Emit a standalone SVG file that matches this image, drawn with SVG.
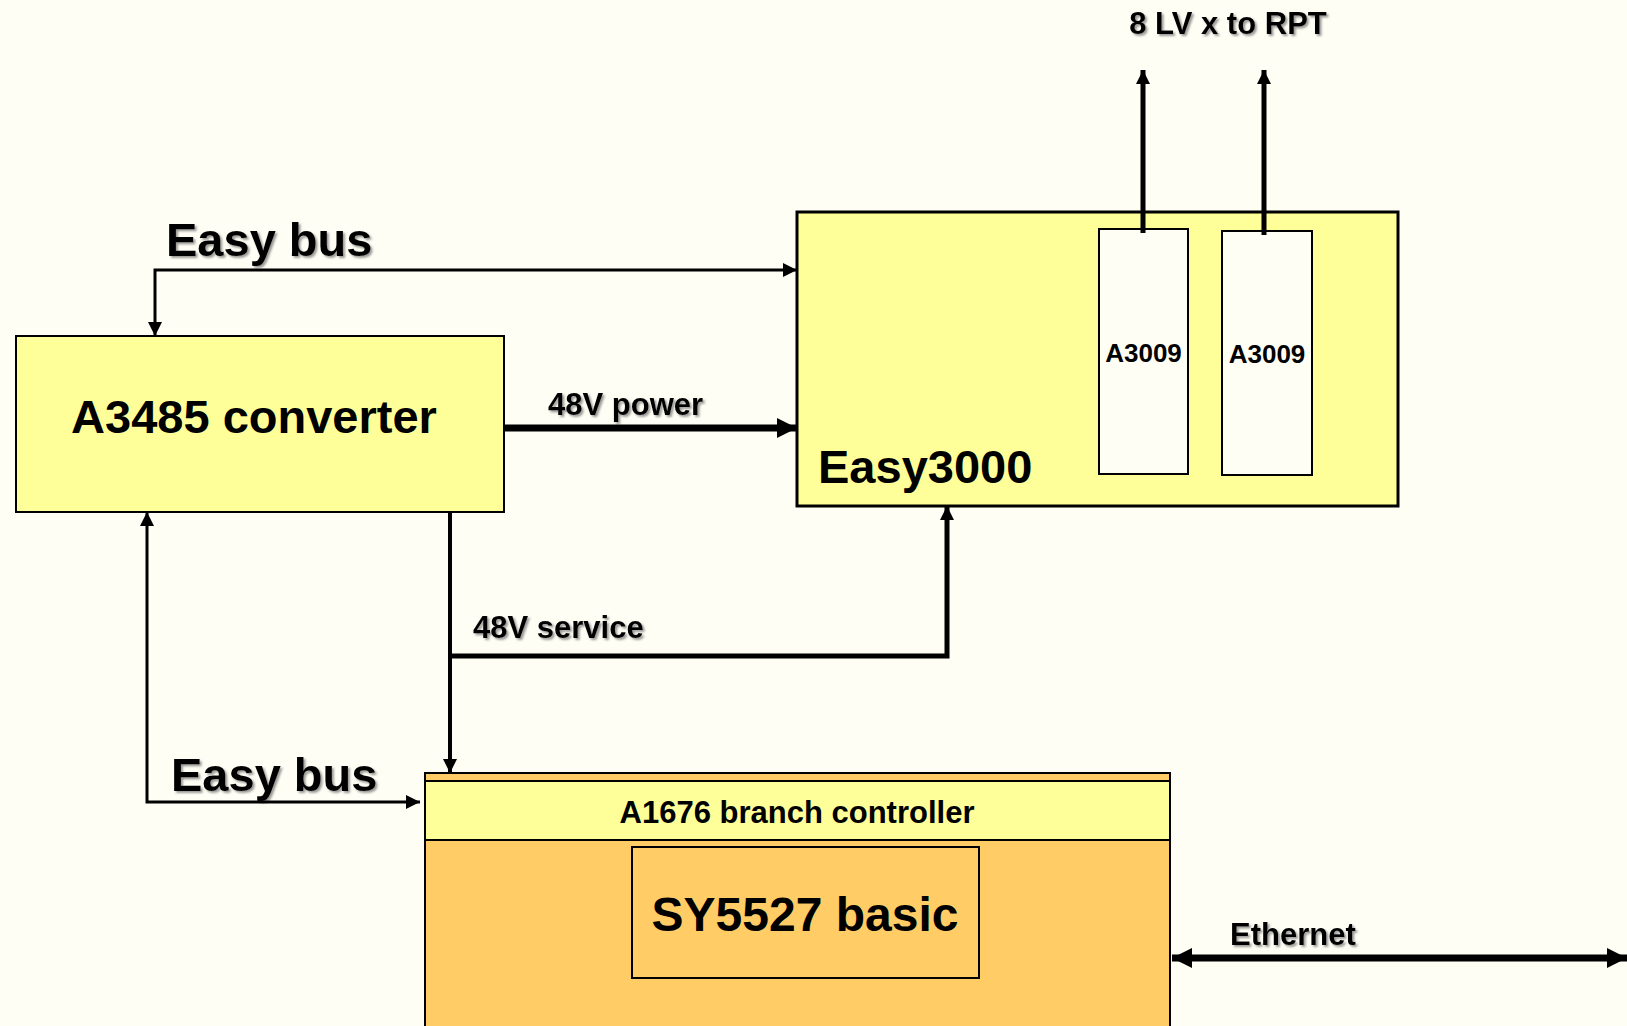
<svg xmlns="http://www.w3.org/2000/svg" width="1627" height="1026" viewBox="0 0 1627 1026">
<style>
  .box { stroke:#000; stroke-width:2; }
  .yel { fill:#FFFF99; }
  .org { fill:#FFCC66; }
  .wht { fill:#FFFEF5; }
  .t { font-family:"Liberation Sans", Arial, sans-serif; font-weight:bold; fill:#000; }
  .ln { fill:none; stroke:#000; stroke-linejoin:miter; }
</style>
<defs>
  <marker id="ah" viewBox="0 0 10 10" refX="10" refY="5" markerUnits="userSpaceOnUse" markerWidth="18" markerHeight="14" orient="auto-start-reverse">
    <path d="M0,0 L10,5 L0,10 z" fill="#000"/>
  </marker>
  <marker id="ahb" viewBox="0 0 10 10" refX="10" refY="5" markerUnits="userSpaceOnUse" markerWidth="22" markerHeight="20" orient="auto-start-reverse">
    <path d="M0,0 L10,5 L0,10 z" fill="#000"/>
  </marker>
  <filter id="sh" x="-5%" y="-10%" width="110%" height="130%">
    <feDropShadow dx="2" dy="2" stdDeviation="1" flood-color="#555" flood-opacity="0.6"/>
  </filter>
</defs>
<rect x="0" y="0" width="1627" height="1026" fill="#FFFEF5"/>

<g id="A3485">
  <rect class="box yel" x="16" y="336" width="488" height="176"/>
  <text class="t" x="254" y="433" font-size="47" text-anchor="middle">A3485 converter</text>
</g>

<g id="Easy3000">
  <rect class="yel" x="797" y="212" width="601" height="294" stroke="#000" stroke-width="3"/>
  <text class="t" x="818" y="483" font-size="47">Easy3000</text>
</g>

<g id="A3009-1">
  <rect class="box wht" x="1099" y="229" width="89" height="245"/>
  <text class="t" x="1143.5" y="362" font-size="26" text-anchor="middle">A3009</text>
</g>

<g id="A3009-2">
  <rect class="box wht" x="1222" y="231" width="90" height="244"/>
  <text class="t" x="1267" y="363" font-size="26" text-anchor="middle">A3009</text>
</g>

<g id="A1676">
  <rect class="box org" x="425" y="773" width="745" height="270"/>
  <rect class="box yel" x="425" y="781" width="745" height="59"/>
  <text class="t" x="797" y="823" font-size="31" text-anchor="middle">A1676 branch controller</text>
</g>

<g id="SY5527">
  <rect class="box org" x="632" y="847" width="347" height="131"/>
  <text class="t" x="805" y="931" font-size="48" text-anchor="middle">SY5527 basic</text>
</g>

<g id="labels" filter="url(#sh)">
  <text class="t" x="1228" y="34" font-size="31" text-anchor="middle">8 LV x to RPT</text>
  <text class="t" x="166" y="256" font-size="47">Easy bus</text>
  <text class="t" x="548" y="415" font-size="31">48V power</text>
  <text class="t" x="473" y="638" font-size="31">48V service</text>
  <text class="t" x="171" y="791" font-size="47">Easy bus</text>
  <text class="t" x="1230" y="945" font-size="31">Ethernet</text>
</g>

<g id="connectors">
  <path class="ln" stroke-width="3" d="M797,270 L155,270 L155,336" marker-start="url(#ah)" marker-end="url(#ah)"/>
  <path class="ln" stroke-width="7" d="M504,428 L797,428" marker-end="url(#ahb)"/>
  <path class="ln" stroke-width="4" d="M450,512 L450,773" marker-end="url(#ah)"/>
  <path class="ln" stroke-width="5" d="M450,656 L947,656 L947,506" marker-end="url(#ah)"/>
  <path class="ln" stroke-width="3" d="M147,512 L147,802 L420,802" marker-start="url(#ah)" marker-end="url(#ah)"/>
  <path class="ln" stroke-width="5" d="M1143,233 L1143,70" marker-end="url(#ah)"/>
  <path class="ln" stroke-width="5" d="M1264,235 L1264,70" marker-end="url(#ah)"/>
  <path class="ln" stroke-width="7" d="M1172,958 L1627,958" marker-start="url(#ahb)" marker-end="url(#ahb)"/>
</g>
</svg>
